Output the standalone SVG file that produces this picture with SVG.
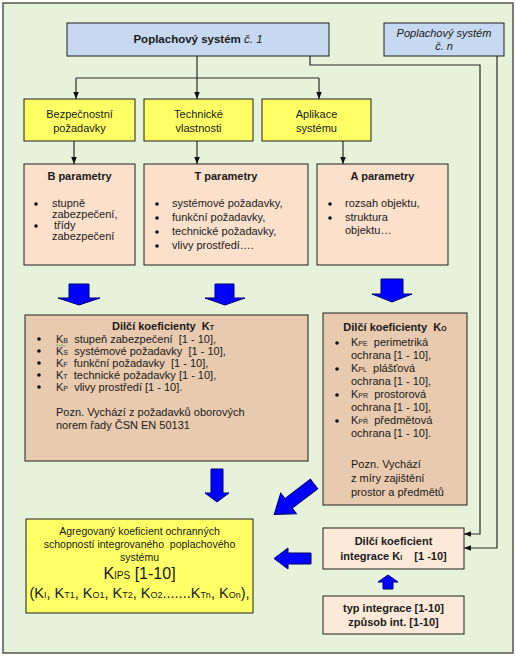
<svg xmlns="http://www.w3.org/2000/svg" width="516" height="658" viewBox="0 0 516 658">
<defs>
<style>
text{font-family:"Liberation Sans",Arial,sans-serif;font-size:11px;fill:#1a1a1a}
.b{font-weight:bold}
.i{font-style:italic}
.c{text-anchor:middle}
.box{stroke:#1f1f1f;stroke-width:1}
.blue{fill:#c6d9f1}
.yel{fill:#ffff66}
.pch{fill:#fbe0cc}
.tan{fill:#e8caaf}
.lt{fill:#fde9d9}
.ln{fill:none;stroke:#2b2b2b;stroke-width:1.2}
.ba{fill:#0000ff;stroke:#000070;stroke-width:1}
.sub{font-size:7px}
.ag{font-size:10.5px}
</style>
<marker id="ah" viewBox="0 0 10 10" refX="10" refY="5" markerWidth="7" markerHeight="7" orient="auto" markerUnits="userSpaceOnUse">
<path d="M0,1 L10,5 L0,9 z" fill="#111"/>
</marker>
</defs>
<rect x="3" y="3" width="510" height="650" fill="#e6f2d9" stroke="#5b6057" stroke-width="1.6"/>

<g id="connectors">
<path class="ln" d="M197,56 V99" marker-end="url(#ah)"/>
<path class="ln" d="M76,78 H319"/>
<path class="ln" d="M76,78 V99" marker-end="url(#ah)"/>
<path class="ln" d="M319,78 V99" marker-end="url(#ah)"/>
<path class="ln" d="M74,141 V164" marker-end="url(#ah)"/>
<path class="ln" d="M197,141 V164" marker-end="url(#ah)"/>
<path class="ln" d="M343,141 V164" marker-end="url(#ah)"/>
<path class="ln" d="M310,56 V65 H480 V534 H464" marker-end="url(#ah)"/>
<path class="ln" d="M497,56 V548 H464" marker-end="url(#ah)"/>
<polygon class="ba" points="69,284 89,284 89,298 100,298 79,305 58,298 69,298"/>
<polygon class="ba" points="215,284 234,284 234,298 245,298 225,305 205,298 215,298"/>
<polygon class="ba" points="381,279 403,279 403,294 412,294 392,302 372,294 381,294"/>
<polygon class="ba" points="211,469 223,469 223,493 229,493 217,502 205,493 211,493"/>
<polygon class="ba" transform="translate(314,484) rotate(142.6)" points="0,-6 32,-6 32,-13 50,0 32,13 32,6 0,6"/>
<polygon class="ba" points="311,553 288,553 288,548 274,558.5 288,569 288,564 311,564"/>
<polygon class="ba" points="383,589 393,589 393,582 398,582 388,575 378,582 383,582"/>
</g>

<g id="ps1">
<rect class="box blue" x="67" y="23" width="262" height="33"/>
<text class="c" x="198" y="43" style="font-size:11.5px"><tspan class="b">Poplachový systém</tspan><tspan class="i"> č. 1</tspan></text>
</g>
<g id="psn">
<rect class="box blue" x="384" y="23" width="120" height="33"/>
<text class="c i" x="444" y="37">Poplachový systém</text>
<text class="c i" x="444" y="50">č. n</text>
</g>

<g id="bezp">
<rect class="box yel" x="24" y="99" width="111" height="42"/>
<text class="c" x="79.5" y="118">Bezpečnostní</text>
<text class="c" x="79.5" y="132">požadavky</text>
</g>
<g id="tech">
<rect class="box yel" x="144" y="99" width="109" height="42"/>
<text class="c" x="198.5" y="118">Technické</text>
<text class="c" x="198.5" y="132">vlastnosti</text>
</g>
<g id="apl">
<rect class="box yel" x="262" y="99" width="109" height="42"/>
<text class="c" x="316.5" y="118">Aplikace</text>
<text class="c" x="316.5" y="132">systému</text>
</g>

<g id="bpar">
<rect class="box pch" x="24" y="164" width="111" height="101"/>
<text class="c b" x="79.5" y="180">B parametry</text>
<circle cx="36" cy="204" r="1.8" fill="#111"/>
<circle cx="36" cy="226" r="1.8" fill="#111"/>
<text x="52" y="207">stupně</text>
<text x="52" y="218">zabezpečení,</text>
<text x="54" y="229">třídy</text>
<text x="52" y="240">zabezpečení</text>
</g>
<g id="tpar">
<rect class="box pch" x="144" y="164" width="164" height="101"/>
<text class="c b" x="226" y="180">T parametry</text>
<circle cx="157" cy="204" r="1.8" fill="#111"/>
<circle cx="157" cy="218" r="1.8" fill="#111"/>
<circle cx="157" cy="232" r="1.8" fill="#111"/>
<circle cx="157" cy="246" r="1.8" fill="#111"/>
<text x="172" y="207">systémové požadavky,</text>
<text x="172" y="221">funkční požadavky,</text>
<text x="172" y="235">technické požadavky,</text>
<text x="172" y="249">vlivy prostředí….</text>
</g>
<g id="apar">
<rect class="box pch" x="317" y="164" width="131" height="101"/>
<text class="c b" x="382.5" y="180">A parametry</text>
<circle cx="330" cy="204" r="1.8" fill="#111"/>
<circle cx="330" cy="218" r="1.8" fill="#111"/>
<text x="345" y="207">rozsah objektu,</text>
<text x="345" y="221">struktura</text>
<text x="345" y="234">objektu…</text>
</g>

<g id="kt">
<rect class="box tan" x="25" y="315" width="283" height="146"/>
<text class="c b" x="163" y="330">Dilčí koeficienty&#160; K<tspan class="sub">T</tspan></text>
<circle cx="39" cy="339" r="1.8" fill="#111"/>
<circle cx="39" cy="351" r="1.8" fill="#111"/>
<circle cx="39" cy="363" r="1.8" fill="#111"/>
<circle cx="39" cy="375" r="1.8" fill="#111"/>
<circle cx="39" cy="387" r="1.8" fill="#111"/>
<text x="56" y="343">K<tspan class="sub">B</tspan>&#160; stupeň zabezpečení&#160; [1 - 10],</text>
<path d="M56,345.5 q1.2,-1.5 2.4,0 t2.4,0 t2.4,0 t2.4,0" fill="none" stroke="#4caf50" stroke-width="0.8"/>
<text x="56" y="355">K<tspan class="sub">S</tspan>&#160; systémové požadavky&#160; [1 - 10],</text>
<text x="56" y="367">K<tspan class="sub">F</tspan>&#160; funkční požadavky&#160; [1 - 10],</text>
<text x="56" y="379">K<tspan class="sub">T</tspan>&#160; technické požadavky [1 - 10],</text>
<text x="56" y="391">K<tspan class="sub">P</tspan>&#160; vlivy prostředí [1 - 10].</text>
<text x="56" y="416">Pozn. Vychází z požadavků oborových</text>
<text x="56" y="429">norem řady ČSN EN 50131</text>
</g>

<g id="ko">
<rect class="box tan" x="323" y="313" width="144" height="192"/>
<text class="c b" x="395" y="331">Dilčí koeficienty&#160; K<tspan class="sub">O</tspan></text>
<circle cx="337" cy="343" r="1.8" fill="#111"/>
<circle cx="337" cy="369" r="1.8" fill="#111"/>
<circle cx="337" cy="395" r="1.8" fill="#111"/>
<circle cx="337" cy="421" r="1.8" fill="#111"/>
<text x="351" y="346">K<tspan class="sub">PE</tspan>&#160; perimetriká</text>
<text x="351" y="359">ochrana [1 - 10],</text>
<text x="351" y="372">K<tspan class="sub">PL</tspan>&#160; plášťová</text>
<text x="351" y="385">ochrana [1 - 10],</text>
<text x="351" y="398">K<tspan class="sub">PR</tspan>&#160; prostorová</text>
<text x="351" y="411">ochrana [1 - 10],</text>
<text x="351" y="424">K<tspan class="sub">PŘ</tspan>&#160; předmětová</text>
<text x="351" y="437">ochrana [1 - 10].</text>
<text x="351" y="468">Pozn. Vychází</text>
<text x="351" y="482">z míry zajištění</text>
<text x="351" y="496">prostor a předmětů</text>
</g>

<g id="agreg">
<rect class="box yel" x="26" y="519" width="227" height="94"/>
<text class="c ag" x="139.5" y="535">Agregovaný koeficient ochranných</text>
<text class="c ag" x="139.5" y="548">schopností integrovaného&#160; poplachového</text>
<text class="c ag" x="139.5" y="561">systému</text>
<text class="c" x="139.5" y="579" style="font-size:16px">K<tspan style="font-size:10px">IPS</tspan> [1-10]</text>
<text class="c" x="139.5" y="598" style="font-size:14.5px">(K<tspan style="font-size:9px">I</tspan>, K<tspan style="font-size:9px">T1</tspan>, K<tspan style="font-size:9px">O1</tspan>, K<tspan style="font-size:9px">T2</tspan>, K<tspan style="font-size:9px">O2</tspan>.......K<tspan style="font-size:9px">Tn</tspan>, K<tspan style="font-size:9px">On</tspan>),</text>
</g>

<g id="kint">
<rect class="box lt" x="323" y="528" width="141" height="41"/>
<text class="c b" x="393.5" y="545">Dilčí koeficient</text>
<text class="c b" x="393.5" y="560">integrace K<tspan class="sub">I</tspan>&#160;&#160;&#160; [1 -10]</text>
</g>
<g id="typ">
<rect class="box lt" x="323" y="596" width="141" height="38"/>
<text class="c b" x="393.5" y="612">typ integrace [1-10]</text>
<text class="c b" x="393.5" y="626">způsob int. [1-10]</text>
</g>
</svg>
